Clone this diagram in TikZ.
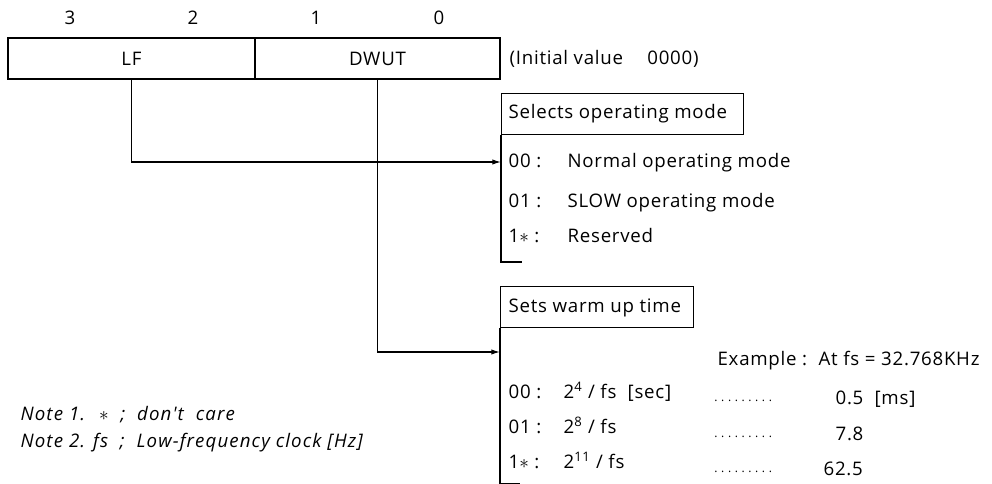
\documentclass[tikz,border=0pt]{standalone}
\usepackage{fontspec}
\setmainfont{Open Sans}[LetterSpace=4]
\newfontfamily\notefont{Open Sans}[LetterSpace=6]
\usetikzlibrary{arrows.meta}
\newcommand{\mydotrow}{\makebox[46pt]{\leaders\hbox to 5.1pt{\hss.\hss}\hfill}}
\begin{document}
\begin{tikzpicture}[x=0.75pt,y=-0.75pt,
  font=\fontsize{14}{16}\selectfont,
  line width=0.9pt,
  fieldbox/.style={draw, inner sep=0pt, minimum height=30.75pt},
  hdrbox/.style={draw, inner sep=0pt, anchor=north west},
  txt/.style={anchor=base west, inner sep=0pt},
  bitnum/.style={inner sep=0pt},
  notetxt/.style={anchor=base west, inner sep=0pt, font=\fontsize{14}{16}\notefont\itshape},
  arr/.style={-{Latex[length=6.5pt,width=4pt]}},
  dotrow/.style={anchor=base west, inner sep=0pt, font=\fontsize{9}{10}\selectfont}
]
\useasboundingbox (0,0) rectangle (992,484);

% bit numbers
\node[bitnum] (b3) at (70,18) {3};
\node[bitnum] (b2) at (193,18) {2};
\node[bitnum] (b1) at (316,18) {1};
\node[bitnum] (b0) at (439,18) {0};

% register fields
\node[fieldbox, minimum width=185.25pt] (lf) at (131.5,58.5) {LF};
\node[fieldbox, minimum width=183.75pt] (dwut) at (377.5,58.5) {DWUT};
\node[txt, anchor=west] (init) at (509,58.5) {(Initial value \quad 0000)};

% Selects operating mode
\node[hdrbox, minimum width=181.5pt, minimum height=30.75pt] (sel) at (501,93) {};
\node[txt] (seltxt) at (508,119) {Selects operating mode};
\coordinate (selin) at (501,162);
\coordinate (selend) at (501,262);
\coordinate (seltick) at (522,262);
\draw (sel.south west) -- (selend) -- (seltick);
\draw[arr] (lf.south) |- (selin);

\node[txt] (s00) at (508,168) {00 :};
\node[txt] (s00t) at (567,168) {Normal operating mode};
\node[txt] (s01) at (508,208) {01 :};
\node[txt] (s01t) at (567,208) {SLOW operating mode};
\node[txt] (s1x) at (508,243) {1$\ast$ :};
\node[txt] (s1xt) at (567,243) {Reserved};

% Sets warm up time
\node[hdrbox, minimum width=144.75pt, minimum height=30.75pt] (set) at (500,286) {};
\node[txt] (settxt) at (508,313) {Sets warm up time};
\coordinate (setin) at (500,352);
\coordinate (setend) at (500,484);
\coordinate (settick) at (520,484);
\draw (set.south west) -- (setend) -- (settick);
\draw[arr] (dwut.south) |- (setin);

\node[txt] (ex) at (717,366) {Example :};
\node[txt] (exv) at (818,366) {At fs = 32.768KHz};

\node[txt] (w00) at (508,398) {00 :};
\node[txt] (w00t) at (563,398) {2\textsuperscript{4} / fs \ [sec]};
\node[dotrow] (d00) at (712,402) {\mydotrow};
\node[txt] (v00) at (835,405) {0.5 \ [ms]};

\node[txt] (w01) at (508,433) {01 :};
\node[txt] (w01t) at (563,433) {2\textsuperscript{8} / fs};
\node[dotrow] (d01) at (712,437) {\mydotrow};
\node[txt] (v01) at (835,440) {7.8};

\node[txt] (w1x) at (508,468) {1$\ast$ :};
\node[txt] (w1xt) at (563,468) {2\textsuperscript{11} / fs};
\node[dotrow] (d1x) at (712,472) {\mydotrow};
\node[txt] (v1x) at (823,475) {62.5};

% notes
\node[notetxt] (n1) at (20,421) {Note 1. \ $\ast$ \ ; \ don't \ care};
\node[notetxt] (n2) at (20,447) {Note 2. fs \ ; \ Low-frequency clock [Hz]};
\end{tikzpicture}
\end{document}
